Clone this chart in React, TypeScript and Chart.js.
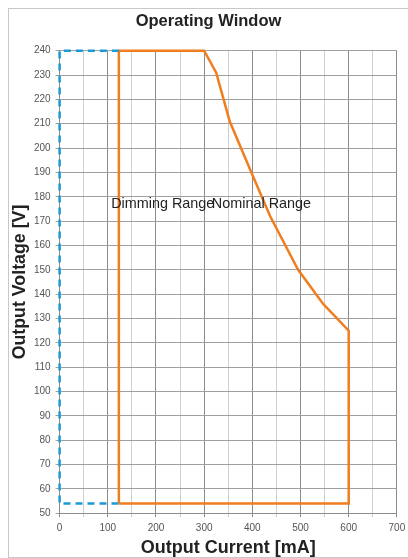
import React, { useEffect, useRef } from "react";
import { Chart, registerables } from "chart.js";

Chart.register(...registerables);

// Data (Output Current [mA], Output Voltage [V])
const dimmingCurrent = [123, 0, 0, 123];
const dimmingVoltage = [240, 240, 54, 54];

const nominalCurrent = [123, 123, 300, 325, 353, 398, 437, 495, 547, 600, 600, 123];
const nominalVoltage = [54, 240, 240, 231, 211, 190, 172, 150, 136, 125, 54, 54];

const seriesLabels = ["Dimming Range", "Nominal Range"];
const labelCurrent = [107, 316];
const labelVoltage = [177, 177];

const xMin = 0;
const xMax = 700;
const yMin = 50;
const yMax = 240;

const FONT = "'Liberation Sans', Arial, sans-serif";

const toPoints = (xs: number[], ys: number[]) => xs.map((x, i) => ({ x, y: ys[i] }));

const labelPlugin = {
  id: "seriesLabels",
  afterDatasetsDraw(chart: any) {
    const { ctx, scales } = chart;
    ctx.save();
    ctx.font = `14.4px ${FONT}`;
    ctx.fillStyle = "#222222";
    ctx.textAlign = "left";
    ctx.textBaseline = "middle";
    seriesLabels.forEach((t, i) => {
      const px = scales.x.getPixelForValue(labelCurrent[i]);
      const py = scales.y.getPixelForValue(labelVoltage[i]);
      ctx.fillText(t, px, py);
    });
    ctx.restore();
  },
};

export default function App() {
  const ref = useRef<HTMLCanvasElement | null>(null);

  useEffect(() => {
    if (!ref.current) return;
    Chart.defaults.font.family = FONT;
    const chart = new Chart(ref.current, {
      type: "scatter",
      data: {
        datasets: [
          {
            label: seriesLabels[0],
            data: toPoints(dimmingCurrent, dimmingVoltage),
            showLine: true,
            borderColor: "#1b9ad6",
            backgroundColor: "#1b9ad6",
            borderWidth: 2.5,
            borderDash: [7, 5],
            pointRadius: 0,
            tension: 0,
            fill: false,
            clip: false,
          } as any,
          {
            label: seriesLabels[1],
            data: toPoints(nominalCurrent, nominalVoltage),
            showLine: true,
            borderColor: "#f07d1e",
            backgroundColor: "#f07d1e",
            borderWidth: 2.5,
            pointRadius: 0,
            tension: 0,
            fill: false,
            clip: false,
          } as any,
        ],
      },
      options: {
        animation: false,
        responsive: false,
        maintainAspectRatio: false,
        layout: { padding: { left: 5.5, right: 5.5, top: 0, bottom: 0 } },
        plugins: {
          legend: { display: false },
          tooltip: { enabled: false },
          title: {
            display: true,
            text: "Operating Window",
            color: "#222222",
            font: { size: 16.5, weight: "bold", family: FONT },
            padding: { top: 2.1, bottom: 19.8 },
          },
        },
        scales: {
          x: {
            type: "linear",
            min: xMin,
            max: xMax,
            ticks: {
              stepSize: 50,
              color: "#555555",
              font: { size: 10, family: FONT },
              padding: 5,
              maxRotation: 0,
              autoSkip: false,
              callback: (v: any) => (Number(v) % 100 === 0 ? String(v) : ""),
            },
            grid: {
              color: (c: any) => (c.tick && c.tick.value % 100 === 0 ? "#8c8c8c" : "#cfcfcf"),
              tickLength: 4,
              lineWidth: 1,
            },
            border: { color: "#8c8c8c" },
            title: {
              display: true,
              text: "Output Current [mA]",
              color: "#222222",
              font: { size: 18, weight: "bold", family: FONT, lineHeight: 1 },
              padding: { top: 0, bottom: 0 },
            },
            afterFit: (s: any) => {
              s.height = 43.7;
              s.paddingRight = 11.1;
              s.paddingLeft = 0;
            },
          } as any,
          y: {
            type: "linear",
            min: yMin,
            max: yMax,
            ticks: {
              stepSize: 10,
              color: "#555555",
              font: { size: 10, family: FONT },
              padding: 5,
              autoSkip: false,
            },
            grid: {
              color: "#a0a0a0",
              tickLength: 4,
              lineWidth: 1,
            },
            border: { color: "#8c8c8c" },
            title: {
              display: true,
              text: "Output Voltage [V]",
              color: "#222222",
              font: { size: 17.8, weight: "bold", family: FONT, lineHeight: 1 },
              padding: { top: -3.4, bottom: 0 },
            },
            afterFit: (s: any) => {
              s.width = 45.1;
            },
          } as any,
        },
      },
      plugins: [labelPlugin],
    });
    return () => chart.destroy();
  }, []);

  return (
    <div
      style={{
        position: "absolute",
        left: 8,
        top: 8,
        width: 400,
        height: 550,
        boxSizing: "border-box",
        borderTop: "1px solid #c8c8c8",
        borderLeft: "1px solid #c8c8c8",
        borderBottom: "1px solid #c8c8c8",
        background: "#ffffff",
      }}
    >
      <canvas ref={ref} width={399} height={548} style={{ display: "block", width: 399, height: 548 }} />
    </div>
  );
}
